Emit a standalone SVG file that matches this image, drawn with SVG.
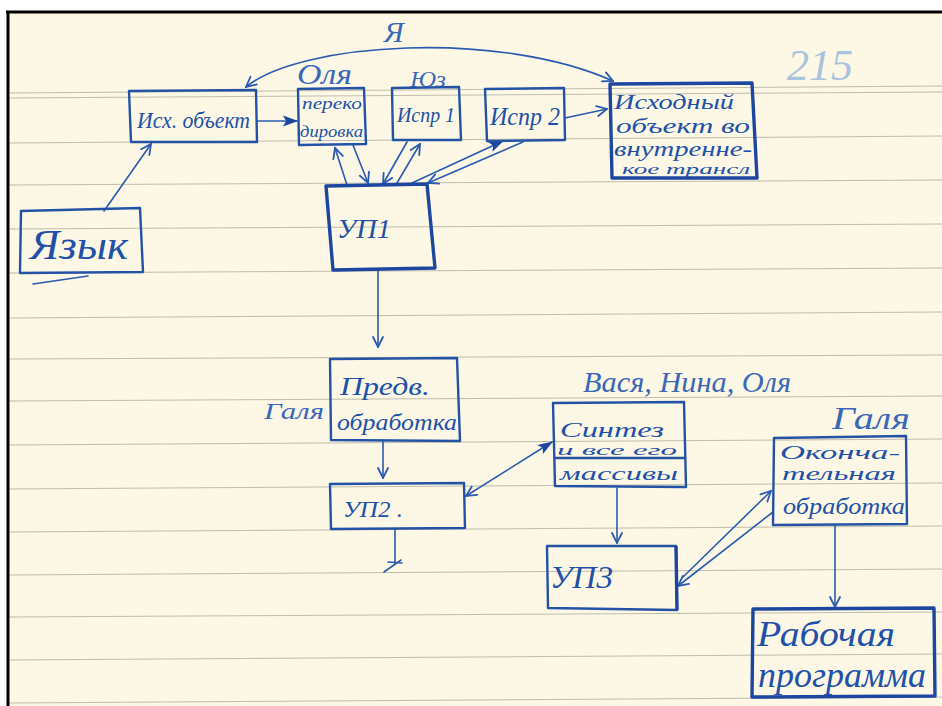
<svg xmlns="http://www.w3.org/2000/svg" width="942" height="706" viewBox="0 0 942 706">
<defs>
<style>
.box{fill:none;stroke:#2452a6;stroke-width:2.4;stroke-linejoin:round}
.thk{fill:none;stroke:#1c46a0;stroke-width:3.4;stroke-linejoin:round}
.ln{fill:none;stroke:#2a5bb0;stroke-width:1.6;stroke-linecap:round}
.rule{stroke:#9a978a;stroke-width:1;opacity:0.6}
.t{font-family:"Liberation Serif","DejaVu Serif",serif;font-style:italic;fill:#2150a8}
.lbl{font-family:"Liberation Serif","DejaVu Serif",serif;font-style:italic;fill:#3a68b8}
</style>
<marker id="open" viewBox="0 0 12 12" refX="11" refY="6" markerWidth="12" markerHeight="12" markerUnits="userSpaceOnUse" orient="auto-start-reverse">
<path d="M1,1 L11,6 L1,11" fill="none" stroke="#2a5bb0" stroke-width="1.8" stroke-linecap="round"/>
</marker>
<marker id="fill" viewBox="0 0 14 12" refX="13" refY="6" markerWidth="16" markerHeight="13" markerUnits="userSpaceOnUse" orient="auto-start-reverse">
<path d="M0,1 L14,6 L0,11 L3,6 Z" fill="#1c46a0"/>
</marker>
</defs>
<rect x="0" y="0" width="942" height="706" fill="#ffffff"/>
<rect x="8" y="12" width="934" height="694" fill="#fcf8e5"/>
<g id="rules">
<line class="rule" x1="8" y1="93" x2="942" y2="86"/>
<line class="rule" x1="8" y1="98" x2="942" y2="92"/>
<line class="rule" x1="8" y1="143" x2="942" y2="136"/>
<line class="rule" x1="8" y1="185" x2="942" y2="180"/>
<line class="rule" x1="8" y1="229" x2="942" y2="224"/>
<line class="rule" x1="8" y1="273" x2="942" y2="268"/>
<line class="rule" x1="8" y1="318" x2="942" y2="312"/>
<line class="rule" x1="8" y1="359" x2="942" y2="355"/>
<line class="rule" x1="8" y1="401" x2="942" y2="396"/>
<line class="rule" x1="8" y1="445" x2="942" y2="439"/>
<line class="rule" x1="8" y1="489" x2="942" y2="483"/>
<line class="rule" x1="8" y1="532" x2="942" y2="526"/>
<line class="rule" x1="8" y1="575" x2="942" y2="569"/>
<line class="rule" x1="8" y1="617" x2="942" y2="612"/>
<line class="rule" x1="8" y1="660" x2="942" y2="654"/>
<line class="rule" x1="8" y1="703" x2="942" y2="697"/>
</g>
<line x1="6" y1="12" x2="942" y2="12" stroke="#000" stroke-width="3"/>
<line x1="8" y1="11" x2="8" y2="706" stroke="#000" stroke-width="3"/>
<text class="lbl" x="787" y="80" font-size="44" style="fill:#a9c3de">215</text>

<g id="connectors">
<path class="ln" d="M246,87 C300,42 500,30 613,81" marker-start="url(#open)" marker-end="url(#open)"/>
<line class="ln" x1="104" y1="211" x2="151" y2="144" marker-end="url(#open)"/>
<line class="ln" x1="257" y1="121" x2="297" y2="121" marker-end="url(#fill)"/>
<line class="ln" x1="565" y1="118" x2="607" y2="109" marker-end="url(#open)"/>
<line class="ln" x1="347" y1="185" x2="335" y2="148" marker-end="url(#open)"/>
<line class="ln" x1="353" y1="145" x2="368" y2="183" marker-end="url(#open)"/>
<line class="ln" x1="407" y1="142" x2="383" y2="184" marker-end="url(#open)"/>
<line class="ln" x1="397" y1="183" x2="420" y2="144" marker-end="url(#open)"/>
<line class="ln" x1="412" y1="183" x2="503" y2="141" marker-end="url(#fill)"/>
<line class="ln" x1="523" y1="142" x2="428" y2="183" marker-end="url(#open)"/>
<line class="ln" x1="378" y1="270" x2="378" y2="347" marker-end="url(#open)"/>
<line class="ln" x1="383" y1="441" x2="383" y2="478" marker-end="url(#open)"/>
<line class="ln" x1="466" y1="496" x2="552" y2="442" marker-start="url(#open)" marker-end="url(#fill)"/>
<line class="ln" x1="395" y1="529" x2="395" y2="563"/>
<path class="ln" d="M384,572 L401,560 M388,562 L402,563" stroke-width="2"/>
<line class="ln" x1="617" y1="488" x2="617" y2="543" marker-end="url(#open)"/>
<line class="ln" x1="683" y1="577" x2="771" y2="491" marker-end="url(#open)"/>
<line class="ln" x1="773" y1="512" x2="678" y2="586" marker-end="url(#open)"/>
<line class="ln" x1="835" y1="526" x2="835" y2="607" marker-end="url(#open)"/>
</g>

<g id="lbl-ya"><text class="lbl" x="384" y="42" font-size="30">Я</text></g>
<g id="lbl-olya"><text class="lbl" x="297" y="84" font-size="30" textLength="55" lengthAdjust="spacingAndGlyphs">Оля</text></g>
<g id="lbl-yu"><text class="lbl" x="410" y="87" font-size="24" textLength="36" lengthAdjust="spacingAndGlyphs">Юз</text></g>
<g id="lbl-galya1"><text class="lbl" x="264" y="419" font-size="24" textLength="60" lengthAdjust="spacingAndGlyphs">Галя</text></g>
<g id="lbl-vasya"><text class="lbl" x="583" y="392" font-size="30" textLength="208" lengthAdjust="spacingAndGlyphs">Вася, Нина, Оля</text></g>
<g id="lbl-galya2"><text class="lbl" x="832" y="429" font-size="32" textLength="78" lengthAdjust="spacingAndGlyphs">Галя</text></g>

<g id="n-ish">
<path class="box" d="M129,91 L256,90 L257,142 L131,142 Z"/>
<text class="t" x="137" y="128" font-size="24" textLength="113" lengthAdjust="spacingAndGlyphs">Исх. объект</text>
</g>
<g id="n-perekod">
<path class="box" d="M298,89 L364,88 L366,144 L299,145 Z"/>
<text class="t" x="302" y="109" font-size="17" textLength="60" lengthAdjust="spacingAndGlyphs">переко</text>
<text class="t" x="300" y="137" font-size="17" textLength="63" lengthAdjust="spacingAndGlyphs">дировка</text>
</g>
<g id="n-ispr1">
<path class="box" d="M392,88 L459,87 L461,140 L393,140 Z"/>
<text class="t" x="397" y="122" font-size="22" textLength="58" lengthAdjust="spacingAndGlyphs">Испр 1</text>
</g>
<g id="n-ispr2">
<path class="box" d="M485,89 L564,88 L565,140 L487,141 Z"/>
<text class="t" x="490" y="125" font-size="25" textLength="70" lengthAdjust="spacingAndGlyphs">Испр 2</text>
</g>
<g id="n-ishod">
<path class="thk" d="M610,84 L752,83 L757,178 L612,178 Z"/>
<text class="t" x="614" y="109" font-size="21" textLength="120" lengthAdjust="spacingAndGlyphs">Исходный</text>
<text class="t" x="616" y="133" font-size="21" textLength="134" lengthAdjust="spacingAndGlyphs">объект во</text>
<text class="t" x="614" y="156" font-size="21" textLength="138" lengthAdjust="spacingAndGlyphs">внутренне-</text>
<text class="t" x="622" y="174" font-size="15" textLength="128" lengthAdjust="spacingAndGlyphs">кое трансл</text>
</g>
<g id="n-yazyk">
<path class="box" d="M21,211 L140,208 L143,272 L20,273 Z"/>
<text class="t" x="30" y="259" font-size="42" textLength="98" lengthAdjust="spacingAndGlyphs">Язык</text>
<path class="ln" d="M33,284 L88,276" stroke-width="2"/>
</g>
<g id="n-up1">
<path class="thk" d="M326,186 L427,184 L435,268 L333,270 Z"/>
<text class="t" x="337" y="238" font-size="28" textLength="54" lengthAdjust="spacingAndGlyphs">УП1</text>
</g>
<g id="n-predv">
<path class="box" d="M330,359 L457,358 L460,441 L331,440 Z"/>
<text class="t" x="340" y="395" font-size="26" textLength="90" lengthAdjust="spacingAndGlyphs">Предв.</text>
<text class="t" x="337" y="430" font-size="24" textLength="120" lengthAdjust="spacingAndGlyphs">обработка</text>
</g>
<g id="n-up2">
<path class="box" d="M330,484 L464,483 L465,528 L331,529 Z"/>
<text class="t" x="343" y="517" font-size="24" textLength="60" lengthAdjust="spacingAndGlyphs">УП2 .</text>
</g>
<g id="n-sintez">
<path class="box" d="M553,403 L684,402 L686,487 L555,486 Z"/>
<path class="box" d="M554,458 L685,458"/>
<text class="t" x="560" y="437" font-size="21" textLength="104" lengthAdjust="spacingAndGlyphs">Синтез</text>
<text class="t" x="557" y="455" font-size="14" textLength="120" lengthAdjust="spacingAndGlyphs">и все его</text>
<text class="t" x="560" y="480" font-size="19" textLength="118" lengthAdjust="spacingAndGlyphs">массивы</text>
</g>
<g id="n-up3">
<path class="box" d="M547,546 L676,546 L677,610 L548,608 Z"/>
<path class="thk" d="M676,546 L677,610" stroke-width="4.5"/>
<text class="t" x="550" y="588" font-size="32" textLength="63" lengthAdjust="spacingAndGlyphs">УП3</text>
</g>
<g id="n-okonch">
<path class="box" d="M774,438 L906,436 L907,524 L773,525 Z"/>
<text class="t" x="780" y="459" font-size="18" textLength="120" lengthAdjust="spacingAndGlyphs">Оконча-</text>
<text class="t" x="782" y="480" font-size="18" textLength="114" lengthAdjust="spacingAndGlyphs">тельная</text>
<text class="t" x="783" y="514" font-size="24" textLength="122" lengthAdjust="spacingAndGlyphs">обработка</text>
</g>
<g id="n-rabochaya">
<path class="thk" d="M753,609 L934,608 L935,696 L752,697 Z" stroke-width="2.8"/>
<text class="t" x="757" y="646" font-size="36" textLength="138" lengthAdjust="spacingAndGlyphs">Рабочая</text>
<text class="t" x="758" y="687" font-size="36" textLength="168" lengthAdjust="spacingAndGlyphs">программа</text>
</g>
</svg>
